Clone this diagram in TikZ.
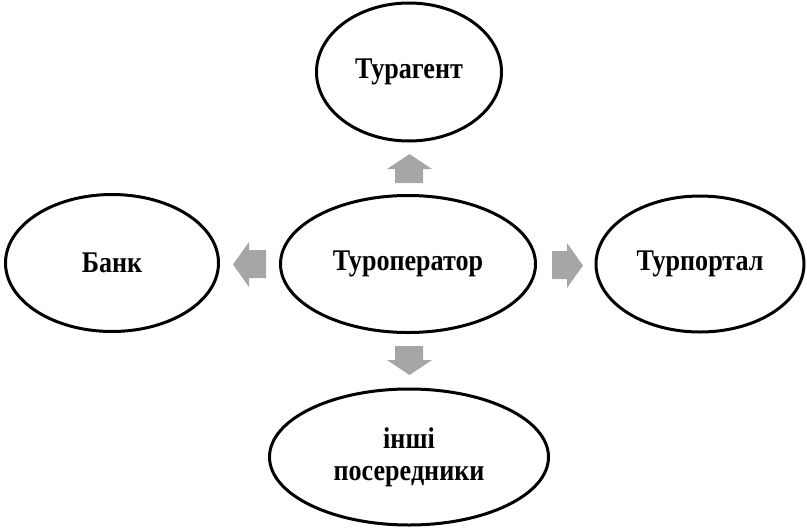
\documentclass[tikz,border=0pt]{standalone}
\usepackage{fontspec}
\setmainfont{Liberation Serif}
\newfontfamily\reffont[FakeStretch=0.87]{Liberation Serif}
\usetikzlibrary{shapes.geometric}
\definecolor{arrgray}{HTML}{A6A6A6}
\tikzset{
  oval/.style={ellipse, draw=black, line width=3pt, fill=white, inner sep=0pt,
    font=\reffont\bfseries\fontsize{30}{32}\selectfont, align=center},
  blockarrow/.style={fill=arrgray, draw=none}
}
\begin{document}
\begin{tikzpicture}[x=1pt,y=-1pt]
\useasboundingbox (0,0) rectangle (807,528);
\node[oval, minimum width=185pt, minimum height=138pt] (agent) at (409,72) {Турагент};
\node[oval, minimum width=255pt, minimum height=137pt] (oper) at (408,264) {Туроператор};
\node[oval, minimum width=213pt, minimum height=137pt] (bank) at (112,263) {Банк};
\node[oval, minimum width=208pt, minimum height=136pt] (portal) at (700,264) {Турпортал};
\node[oval, minimum width=279pt, minimum height=136pt] (other) at (409,457) {інші\\посередники};
% up arrow
\fill[blockarrow] (395,183) -- (395,169) -- (387,169) -- (409.5,154) -- (432,169) -- (423,169) -- (423,183) -- cycle;
% down arrow
\fill[blockarrow] (395,346) -- (395,360) -- (387,360) -- (409.5,375) -- (432,360) -- (423,360) -- (423,346) -- cycle;
% left arrow
\fill[blockarrow] (266,250) -- (249,250) -- (249,242) -- (233,264.5) -- (249,287) -- (249,278) -- (266,278) -- cycle;
% right arrow
\fill[blockarrow] (552,251) -- (567,251) -- (567,243) -- (583,265.5) -- (567,288) -- (567,279) -- (552,279) -- cycle;
\end{tikzpicture}
\end{document}
